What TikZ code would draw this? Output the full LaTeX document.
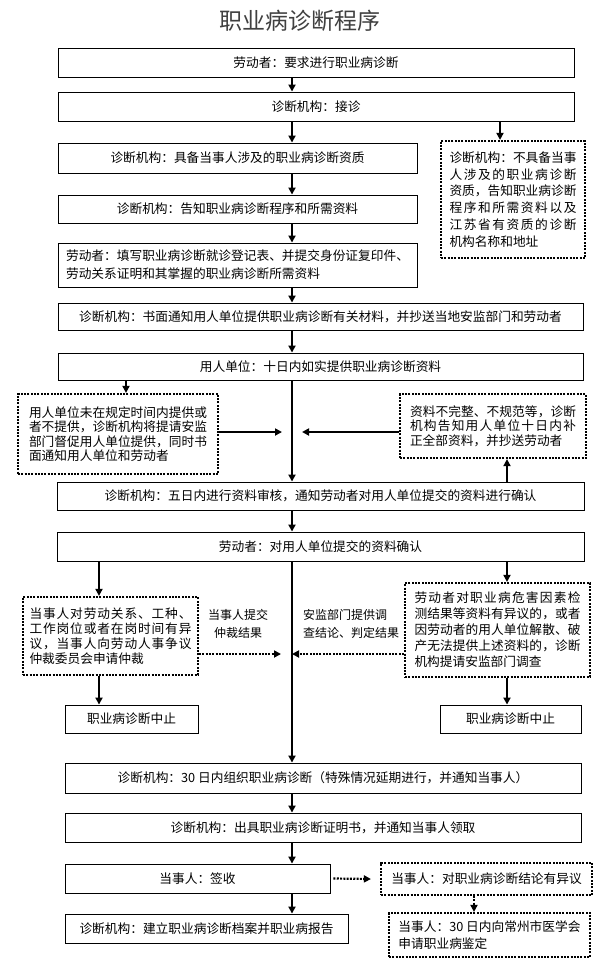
\documentclass[tikz,border=0pt]{standalone}
\usepackage{fontspec}
\setmainfont{Noto Sans CJK SC}
\usetikzlibrary{arrows.meta}
\def\spreadit#1{\ifx#1\relax\else#1\expandafter\spreadnext\fi}
\def\spreadnext#1{\ifx#1\relax\else\hfil#1\expandafter\spreadnext\fi}
\newcommand\jl[2]{\makebox[#1][s]{\spreadit#2\relax}}
\begin{document}
\begin{tikzpicture}[x=1pt,y=-1pt,
  box/.style={draw, line width=0.9pt, inner sep=0pt, align=center, font=\fontsize{12.7}{15}\selectfont},
  dbox/.style={draw, line width=2.2pt, dash pattern=on 2pt off 1.3pt, inner sep=0pt, align=left, font=\fontsize{12.7}{15}\selectfont},
  arr/.style={line width=1.8pt, -{Triangle[length=7pt,width=7pt]}},
  darr/.style={line width=2.2pt, dash pattern=on 2pt off 1.3pt, -{Triangle[length=7pt,width=7pt]}},
  lab/.style={inner sep=0pt, font=\fontsize{12}{18}\selectfont}]
\useasboundingbox (0,0) rectangle (600,963);
\fill[white] (0,0) rectangle (600,963);

\node[inner sep=0pt, text=black!75, font=\fontsize{23}{23}\selectfont] (title) at (300,21) {职业病诊断程序};

\coordinate (cx) at (292,0);
\coordinate (rx) at (500,0);
\coordinate (lx) at (126,0);
\coordinate (ux) at (507,0);
\coordinate (l2x) at (99,0);
\coordinate (dx) at (474,0);
\coordinate (m1) at (282,432);
\coordinate (m2) at (302,432);
\coordinate (m3) at (281,654);
\coordinate (m4) at (292,654);

\node[box, minimum width=516pt, minimum height=29pt] (b1) at (316,62.5) {劳动者：要求进行职业病诊断};
\node[box, minimum width=516pt, minimum height=29pt] (b2) at (316,106.5) {诊断机构：接诊};
\node[box, minimum width=359pt, minimum height=30pt] (b3) at (237.5,158) {诊断机构：具备当事人涉及的职业病诊断资质};
\node[box, minimum width=359pt, minimum height=28pt] (b4) at (237.5,209) {诊断机构：告知职业病诊断程序和所需资料};
\node[box, align=left, minimum width=359pt, minimum height=44pt, font=\fontsize{12.7}{18}\selectfont] (b5) at (237.5,265) {劳动者：填写职业病诊断就诊登记表、并提交身份证复印件、\\劳动关系证明和其掌握的职业病诊断所需资料};
\node[dbox, minimum width=144pt, minimum height=117pt, font=\fontsize{12.7}{16.7}\selectfont] (r1) at (513,199.5) {\jl{127pt}{诊断机构：不具备当事}\\\jl{127pt}{人涉及的职业病诊断}\\\jl{127pt}{资质，告知职业病诊断}\\\jl{127pt}{程序和所需资料以及}\\\jl{127pt}{江苏省有资质的诊断}\\机构名称和地址};
\node[box, minimum width=525pt, minimum height=27pt] (b6) at (320.5,316.5) {诊断机构：书面通知用人单位提供职业病诊断有关材料，并抄送当地安监部门和劳动者};
\node[box, minimum width=525pt, minimum height=27pt] (b7) at (320.5,366.5) {用人单位：十日内如实提供职业病诊断资料};
\node[dbox, minimum width=200pt, minimum height=80pt, font=\fontsize{12.7}{14.5}\selectfont] (l1) at (118,434) {\jl{178pt}{用人单位未在规定时间内提供或}\\\jl{178pt}{者不提供，诊断机构将提请安监}\\\jl{178pt}{部门督促用人单位提供，同时书}\\面通知用人单位和劳动者};
\node[dbox, minimum width=186pt, minimum height=64pt, font=\fontsize{12.7}{14.5}\selectfont] (r2) at (493,426) {\jl{166pt}{资料不完整、不规范等，诊断}\\\jl{166pt}{机构告知用人单位十日内补}\\正全部资料，并抄送劳动者};
\node[box, minimum width=527pt, minimum height=28pt] (b8) at (320.5,496) {诊断机构：五日内进行资料审核，通知劳动者对用人单位提交的资料进行确认};
\node[box, minimum width=527pt, minimum height=29pt] (b9) at (320.5,546.5) {劳动者：对用人单位提交的资料确认};
\node[dbox, minimum width=175pt, minimum height=78pt, font=\fontsize{12.7}{15}\selectfont] (l2) at (110.5,636) {\jl{162pt}{当事人对劳动关系、工种、}\\\jl{162pt}{工作岗位或者在岗时间有异}\\\jl{162pt}{议，当事人向劳动人事争议}\\仲裁委员会申请仲裁};
\node[dbox, minimum width=185pt, minimum height=94pt, font=\fontsize{12.7}{16}\selectfont] (r3) at (497.5,630) {\jl{166pt}{劳动者对职业病危害因素检}\\\jl{166pt}{测结果等资料有异议的，或者}\\\jl{166pt}{因劳动者的用人单位解散、破}\\\jl{166pt}{产无法提供上述资料的，诊断}\\机构提请安监部门调查};
\node[lab, align=center] (t1) at (238,624) {当事人提交\\仲裁结果};
\node[lab, align=left, anchor=west] (t2) at (303,624) {安监部门提供调\\查结论、判定结果};
\node[box, minimum width=133pt, minimum height=28pt] (s1) at (131.5,719) {职业病诊断中止};
\node[box, minimum width=141pt, minimum height=28pt] (s2) at (510.5,719) {职业病诊断中止};
\node[box, minimum width=516pt, minimum height=30pt] (b10) at (323,778) {诊断机构：30 日内组织职业病诊断（特殊情况延期进行，并通知当事人）};
\node[box, minimum width=516pt, minimum height=29pt] (b11) at (323,827.5) {诊断机构：出具职业病诊断证明书，并通知当事人领取};
\node[box, minimum width=265pt, minimum height=29pt] (b12) at (197.5,878.5) {当事人：签收};
\node[dbox, align=center, minimum width=211pt, minimum height=32pt] (r4) at (486.5,879) {当事人：对职业病诊断结论有异议};
\node[dbox, minimum width=201pt, minimum height=44pt, font=\fontsize{12.7}{17}\selectfont] (r5) at (489.5,935) {当事人：30 日内向常州市医学会\\申请职业病鉴定};
\node[box, minimum width=283pt, minimum height=29pt] (b13) at (206.5,928.5) {诊断机构：建立职业病诊断档案并职业病报告};

\draw[arr] (b1.south -| cx) -- (b2.north -| cx);
\draw[arr] (b2.south -| cx) -- (b3.north -| cx);
\draw[arr] (b2.south -| rx) -- (r1.north -| rx);
\draw[arr] (b3.south -| cx) -- (b4.north -| cx);
\draw[arr] (b4.south -| cx) -- (b5.north -| cx);
\draw[arr] (b5.south -| cx) -- (b6.north -| cx);
\draw[arr] (b6.south -| cx) -- (b7.north -| cx);
\draw[arr] (b7.south -| lx) -- (l1.north -| lx);
\draw[arr] (b7.south -| cx) -- (b8.north -| cx);
\draw[arr] (l1.east |- m1) -- (m1);
\draw[arr] (r2.west |- m2) -- (m2);
\draw[arr] (b8.north -| ux) -- (r2.south -| ux);
\draw[arr] (b8.south -| cx) -- (b9.north -| cx);
\draw[arr] (b9.south -| l2x) -- (l2.north -| l2x);
\draw[arr] (b9.south -| ux) -- (r3.north -| ux);
\draw[arr] (b9.south -| cx) -- (b10.north -| cx);
\draw[darr] (l2.east |- m3) -- (m3);
\draw[darr] (r3.west |- m4) -- (m4);
\draw[arr] (l2.south -| l2x) -- (s1.north -| l2x);
\draw[arr] (r3.south -| ux) -- (s2.north -| ux);
\draw[arr] (b10.south -| cx) -- (b11.north -| cx);
\draw[arr] (b11.south -| cx) -- (b12.north -| cx);
\draw[arr] (b12.south -| cx) -- (b13.north -| cx);
\draw[darr] ([xshift=3pt]b12.east) -- ([xshift=-9pt]r4.west);
\draw[darr] (r4.south -| dx) -- (r5.north -| dx);
\end{tikzpicture}
\end{document}
